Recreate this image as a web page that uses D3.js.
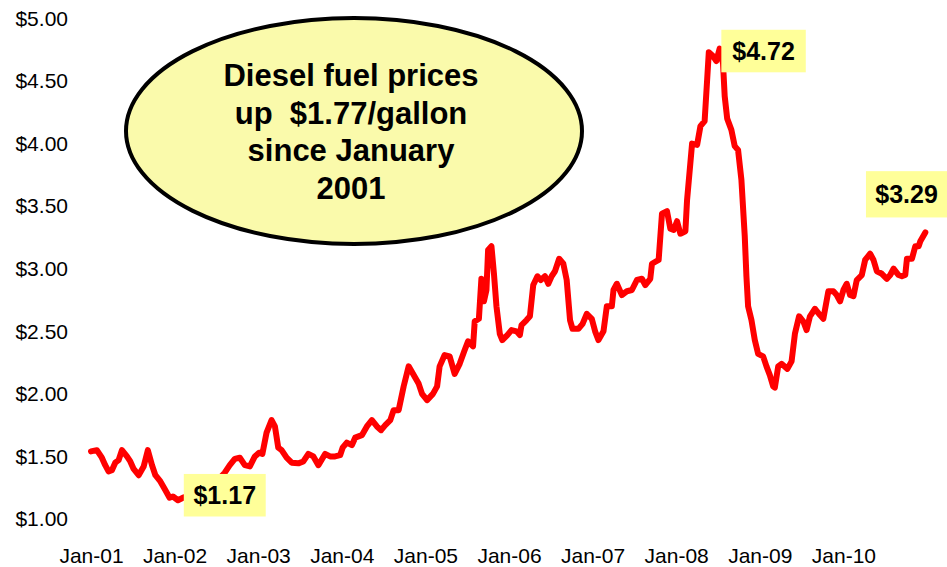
<!DOCTYPE html>
<html><head><meta charset="utf-8">
<script src="https://cdn.jsdelivr.net/npm/d3@7/dist/d3.min.js"></script>
<style>html,body{margin:0;padding:0;background:#fff;overflow:hidden}svg{display:block}</style>
</head><body>
<svg id="chart" width="947" height="567"></svg>
<script>
// Weekly diesel price (decimal year, $/gallon)
const years = [2001.00,2001.07,2001.13,2001.17,2001.21,2001.25,2001.29,2001.33,2001.37,2001.43,2001.47,2001.51,2001.57,2001.63,2001.68,2001.73,2001.77,2001.83,2001.89,2001.94,2001.98,2002.04,2002.10,2002.20,2002.30,2002.40,2002.50,
2002.60,2002.66,2002.72,2002.78,2002.84,2002.90,2002.96,2003.01,2003.05,2003.10,2003.16,2003.20,2003.24,2003.28,2003.34,2003.40,2003.48,2003.54,2003.60,2003.66,2003.72,2003.80,2003.86,2003.92,2003.98,
2004.01,2004.06,2004.12,2004.16,2004.24,2004.30,2004.36,2004.42,2004.47,2004.52,2004.58,2004.62,2004.68,2004.74,2004.80,2004.86,2004.92,2004.96,
2005.02,2005.09,2005.14,2005.17,2005.23,2005.29,2005.35,2005.41,2005.47,2005.51,2005.57,2005.59,2005.64,2005.67,2005.70,2005.73,2005.75,2005.79,2005.82,2005.85,2005.89,2005.92,2005.98,
2006.03,2006.09,2006.13,2006.15,2006.21,2006.25,2006.29,2006.34,2006.38,2006.43,2006.47,2006.51,2006.55,2006.60,2006.65,2006.69,2006.73,2006.76,2006.83,2006.88,2006.93,2006.99,
2007.03,2007.07,2007.13,2007.17,2007.23,2007.25,2007.29,2007.35,2007.41,2007.47,2007.53,2007.59,2007.63,2007.69,2007.71,2007.79,2007.83,2007.89,2007.93,2007.97,
2008.01,2008.05,2008.11,2008.13,2008.19,2008.25,2008.29,2008.34,2008.37,2008.39,2008.44,2008.48,2008.52,2008.56,2008.58,2008.61,2008.66,2008.70,2008.74,2008.78,2008.82,2008.84,2008.86,2008.90,2008.94,2008.98,
2009.04,2009.08,2009.12,2009.16,2009.18,2009.22,2009.26,2009.33,2009.38,2009.42,2009.47,2009.52,2009.56,2009.60,2009.66,2009.72,2009.76,2009.82,2009.88,2009.92,2009.96,
2010.00,2010.04,2010.08,2010.12,2010.16,2010.22,2010.26,2010.32,2010.36,2010.40,2010.46,2010.52,2010.56,2010.60,2010.66,2010.70,2010.74,2010.76,2010.82,2010.86,2010.90,2010.92,2010.98];
const prices = [1.54,1.55,1.49,1.43,1.38,1.39,1.45,1.47,1.55,1.50,1.46,1.40,1.35,1.42,1.55,1.43,1.35,1.30,1.23,1.17,1.18,1.15,1.17,1.19,1.26,1.29,1.30,
1.37,1.43,1.48,1.49,1.43,1.42,1.50,1.53,1.52,1.69,1.79,1.74,1.57,1.55,1.49,1.45,1.445,1.46,1.52,1.50,1.43,1.52,1.50,1.50,1.51,
1.57,1.61,1.59,1.65,1.67,1.74,1.79,1.74,1.71,1.75,1.79,1.87,1.87,2.06,2.22,2.15,2.08,2.00,
1.95,2.00,2.06,2.22,2.31,2.30,2.16,2.24,2.35,2.42,2.38,2.58,2.60,2.92,2.74,2.83,3.15,3.18,2.96,2.70,2.48,2.43,2.47,
2.51,2.50,2.47,2.55,2.59,2.62,2.87,2.94,2.91,2.94,2.88,2.94,2.98,3.08,3.04,2.91,2.59,2.52,2.52,2.56,2.64,2.60,
2.50,2.43,2.50,2.70,2.70,2.83,2.88,2.79,2.82,2.83,2.91,2.92,2.87,2.92,3.04,3.07,3.44,3.46,3.32,3.31,
3.38,3.28,3.30,3.55,4.00,3.99,4.14,4.18,4.51,4.73,4.70,4.66,4.76,4.64,4.38,4.20,4.11,3.98,3.95,3.71,3.26,2.94,2.70,2.59,2.43,2.32,
2.30,2.22,2.15,2.06,2.05,2.22,2.24,2.20,2.26,2.48,2.62,2.58,2.51,2.62,2.68,2.63,2.60,2.82,2.82,2.79,2.74,
2.83,2.88,2.79,2.78,2.91,2.95,3.07,3.12,3.07,2.98,2.96,2.92,2.95,3.00,2.95,2.94,2.95,3.08,3.08,3.18,3.18,3.22,3.29];
const yTicks = [1.00,1.50,2.00,2.50,3.00,3.50,4.00,4.50,5.00];
const xTicks = [2001,2002,2003,2004,2005,2006,2007,2008,2009,2010];
const xTickLabels = ["Jan-01","Jan-02","Jan-03","Jan-04","Jan-05","Jan-06","Jan-07","Jan-08","Jan-09","Jan-10"];
const calloutLines = ["Diesel fuel prices","up  $1.77/gallon","since January","2001"];
const labelTexts = ["$1.17","$4.72","$3.29"];

const svg = d3.select("#chart");
const x = d3.scaleLinear().domain([2001, 2011]).range([91, 927]);
const y = d3.scaleLinear().domain([1, 5]).range([519, 18.5]);
const FONT = "Arial, 'Liberation Sans', Helvetica, sans-serif";

// Y axis (labels only)
const yAxis = d3.axisLeft(y).tickValues(yTicks).tickSize(0).tickPadding(0)
  .tickFormat(d => "$" + d3.format(".2f")(d));
const gy = svg.append("g").attr("transform", "translate(68,0)").call(yAxis);
gy.select(".domain").remove();
gy.selectAll("text").attr("font-family", FONT).attr("font-size", 21).attr("fill", "#000");

// X axis (labels only)
const xAxis = d3.axisBottom(x).tickValues(xTicks).tickSize(0).tickPadding(0)
  .tickFormat((d, i) => xTickLabels[i]);
const gx = svg.append("g").attr("transform", "translate(0,548)").call(xAxis);
gx.select(".domain").remove();
gx.selectAll("text").attr("font-family", FONT).attr("font-size", 21).attr("fill", "#000").attr("dy", "0.71em");

// Line
const data = years.map((t, i) => ({t, v: prices[i]}));
svg.append("path").datum(data)
  .attr("fill", "none").attr("stroke", "#ff0000").attr("stroke-width", 6)
  .attr("stroke-linejoin", "round").attr("stroke-linecap", "round")
  .attr("d", d3.line().x(d => x(d.t)).y(d => y(d.v)));

// Callout ellipse
svg.append("ellipse").attr("cx", 354).attr("cy", 131).attr("rx", 228).attr("ry", 113)
  .attr("fill", "#fafaab").attr("stroke", "#000").attr("stroke-width", 4);
svg.append("g").selectAll("text").data(calloutLines).join("text")
  .attr("x", 351).attr("y", (d, i) => 86 + i * 37.7)
  .attr("text-anchor", "middle").attr("font-family", FONT).attr("font-weight", "bold")
  .attr("font-size", 31).attr("fill", "#000").attr("xml:space", "preserve")
  .style("white-space", "pre").text(d => d);

// Value labels
const labelBoxes = [
  {text: labelTexts[0], x0: 2002.11, x1: 2003.09, v0: 1.02, v1: 1.36},
  {text: labelTexts[1], x0: 2008.54, x1: 2009.55, v0: 4.57, v1: 4.91},
  {text: labelTexts[2], x0: 2010.27, x1: 2011.24, v0: 3.41, v1: 3.78}
];
const lg = svg.append("g");
labelBoxes.forEach(b => {
  lg.append("rect").attr("x", x(b.x0)).attr("y", y(b.v1))
    .attr("width", x(b.x1) - x(b.x0)).attr("height", y(b.v0) - y(b.v1))
    .attr("fill", "#ffff99");
  lg.append("text").attr("x", (x(b.x0) + x(b.x1)) / 2).attr("y", (y(b.v0) + y(b.v1)) / 2)
    .attr("dy", "0.36em").attr("text-anchor", "middle")
    .attr("font-family", FONT).attr("font-weight", "bold").attr("font-size", 25)
    .attr("fill", "#000").text(b.text);
});
</script>
</body></html>
